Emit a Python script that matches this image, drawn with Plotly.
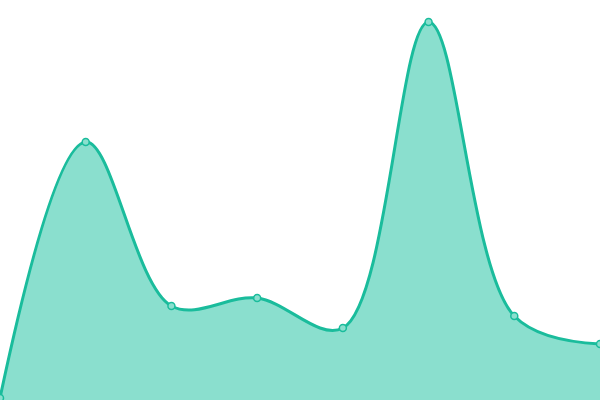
import plotly.graph_objects as go

# x positions are just the category index
steps = [0, 1, 2, 3, 4, 5, 6, 7]
values = [2, 258, 94, 102, 72, 378, 84, 56]

fig = go.Figure()
fig.add_trace(go.Scatter(
    x=steps,
    y=values,
    mode='lines+markers',
    line=dict(color='#1abc9c', width=3, shape='spline', smoothing=1),
    marker=dict(size=7, color='#8adfce', line=dict(color='#1abc9c', width=1.5)),
    fill='tozeroy',
    fillcolor='#8adfce',
    cliponaxis=False,
))

fig.update_layout(
    width=600, height=400,
    margin=dict(l=0, r=0, t=0, b=0),
    paper_bgcolor='white', plot_bgcolor='white',
    showlegend=False,
    xaxis=dict(visible=False, range=[0, 7]),
    yaxis=dict(visible=False, range=[0, 400]),
)

# drop the default page margin so the plot sits at the window corner
fig.write_html("out.html",
               config={'displayModeBar': False},
               post_script="document.body.style.margin='0';document.body.style.overflow='hidden';")
